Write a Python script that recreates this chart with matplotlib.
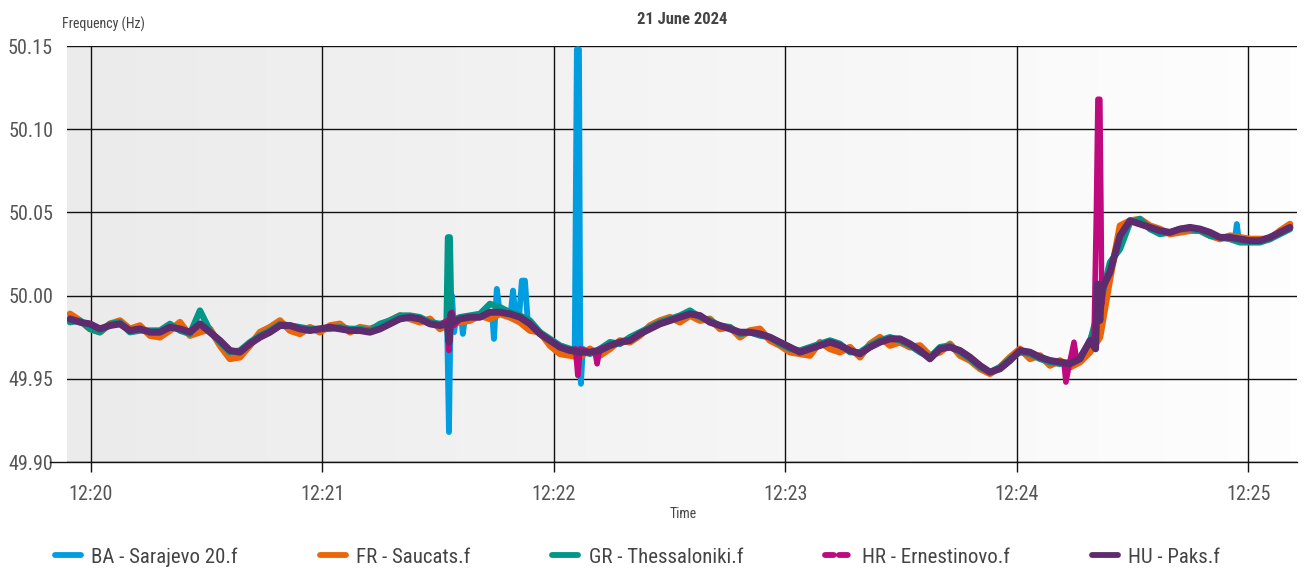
import numpy as np
import matplotlib
matplotlib.use("Agg")
import matplotlib.pyplot as plt
import matplotlib.dates as mdates
from matplotlib.colors import LinearSegmentedColormap
from matplotlib import font_manager
from matplotlib.lines import Line2D
import datetime as dt

avail = {f.name for f in font_manager.fontManager.ttflist}
fam = [f for f in ['Liberation Sans Narrow', 'Roboto Condensed', 'Roboto', 'DejaVu Sans'] if f in avail]
plt.rcParams['font.family'] = fam

# ---------------- data ----------------
title = "21 June 2024"
y_label = "Frequency (Hz)"
x_label = "Time"
series_names = ["BA - Sarajevo 20.f", "FR - Saucats.f", "GR - Thessaloniki.f",
                "HR - Ernestinovo.f", "HU - Paks.f"]
series_colors = ["#009ee0", "#ec6608", "#009688", "#be0a7e", "#5e2c6e"]

# sample grid (seconds after 12:20:00)
t_start = -5.44
t_step = 2.592

hu = [49.986, 49.984, 49.983, 49.980, 49.982, 49.983, 49.979, 49.980, 49.978, 49.978,
      49.981, 49.980, 49.978, 49.983, 49.978, 49.973, 49.967, 49.966, 49.971, 49.975,
      49.978, 49.982, 49.982, 49.980, 49.979, 49.980, 49.981, 49.980, 49.979, 49.979,
      49.978, 49.980, 49.983, 49.986, 49.987, 49.986, 49.983, 49.982, 49.985, 49.986,
      49.987, 49.987, 49.990, 49.990, 49.989, 49.987, 49.983, 49.977, 49.973, 49.969,
      49.967, 49.966, 49.966, 49.967, 49.970, 49.972, 49.973, 49.977, 49.980, 49.983,
      49.985, 49.987, 49.989, 49.988, 49.984, 49.982, 49.980, 49.978, 49.978, 49.977,
      49.975, 49.972, 49.969, 49.966, 49.968, 49.970, 49.972, 49.970, 49.967, 49.965,
      49.969, 49.972, 49.974, 49.974, 49.971, 49.967, 49.962, 49.968, 49.969, 49.967,
      49.963, 49.958, 49.954, 49.956, 49.961, 49.967, 49.966, 49.963, 49.961, 49.960,
      49.959, 49.962, 49.973, 49.991, 50.014, 50.036, 50.045, 50.043, 50.041, 50.039,
      50.038, 50.040, 50.041, 50.040, 50.038, 50.035, 50.035, 50.034, 50.033, 50.033,
      50.035, 50.038, 50.041]

fr = [49.989, 49.985, 49.980, 49.978, 49.983, 49.985, 49.980, 49.982, 49.976, 49.975,
      49.979, 49.984, 49.976, 49.978, 49.980, 49.970, 49.962, 49.963, 49.970, 49.978,
      49.981, 49.985, 49.979, 49.977, 49.981, 49.978, 49.982, 49.983, 49.978, 49.981,
      49.980, 49.982, 49.985, 49.988, 49.986, 49.984, 49.986, 49.980, 49.983, 49.984,
      49.985, 49.988, 49.986, 49.989, 49.987, 49.984, 49.979, 49.978, 49.970, 49.965,
      49.964, 49.963, 49.968, 49.964, 49.968, 49.973, 49.972, 49.976, 49.982, 49.985,
      49.987, 49.984, 49.988, 49.985, 49.986, 49.980, 49.981, 49.975, 49.979, 49.980,
      49.973, 49.970, 49.966, 49.965, 49.964, 49.972, 49.968, 49.966, 49.969, 49.963,
      49.971, 49.975, 49.970, 49.972, 49.969, 49.970, 49.964, 49.966, 49.971, 49.964,
      49.961, 49.956, 49.953, 49.957, 49.963, 49.968, 49.962, 49.964, 49.958, 49.961,
      49.957, 49.960, 49.966, 49.975, 50.010, 50.042, 50.045, 50.046, 50.042, 50.040,
      50.037, 50.038, 50.039, 50.039, 50.036, 50.034, 50.036, 50.035, 50.034, 50.034,
      50.034, 50.039, 50.043]

gr = [49.984, 49.985, 49.980, 49.978, 49.983, 49.984, 49.978, 49.979, 49.979, 49.979,
      49.983, 49.979, 49.977, 49.991, 49.979, 49.972, 49.966, 49.967, 49.972, 49.976,
      49.979, 49.983, 49.982, 49.981, 49.980, 49.980, 49.980, 49.981, 49.980, 49.980,
      49.979, 49.983, 49.985, 49.988, 49.988, 49.987, 49.984, 49.983, 49.986, 49.987,
      49.988, 49.989, 49.995, 49.993, 49.990, 49.988, 49.985, 49.978, 49.974, 49.970,
      49.968, 49.967, 49.965, 49.968, 49.972, 49.971, 49.975, 49.978, 49.981, 49.984,
      49.986, 49.988, 49.991, 49.987, 49.985, 49.982, 49.981, 49.977, 49.978, 49.976,
      49.975, 49.971, 49.968, 49.967, 49.969, 49.971, 49.973, 49.971, 49.966, 49.966,
      49.970, 49.973, 49.975, 49.973, 49.970, 49.966, 49.963, 49.969, 49.970, 49.966,
      49.962, 49.957, 49.954, 49.957, 49.962, 49.966, 49.965, 49.962, 49.960, 49.959,
      49.960, 49.963, 49.972, 49.995, 50.020, 50.028, 50.044, 50.046, 50.040, 50.037,
      50.038, 50.040, 50.040, 50.039, 50.036, 50.035, 50.034, 50.032, 50.032, 50.032,
      50.034, 50.037, 50.040]

ba = [49.986, 49.984, 49.983, 49.980, 49.982, 49.983, 49.979, 49.980, 49.978, 49.978,
      49.981, 49.980, 49.978, 49.983, 49.978, 49.973, 49.967, 49.966, 49.971, 49.975,
      49.978, 49.982, 49.982, 49.980, 49.979, 49.980, 49.981, 49.980, 49.979, 49.979,
      49.978, 49.980, 49.983, 49.986, 49.987, 49.986, 49.983, 49.982, 49.985, 49.986,
      49.987, 49.987, 49.990, 49.990, 49.989, 49.987, 49.983, 49.977, 49.973, 49.969,
      49.967, 49.966, 49.966, 49.967, 49.970, 49.972, 49.973, 49.977, 49.980, 49.983,
      49.985, 49.987, 49.989, 49.988, 49.984, 49.982, 49.980, 49.978, 49.978, 49.977,
      49.975, 49.972, 49.969, 49.966, 49.968, 49.970, 49.972, 49.970, 49.967, 49.965,
      49.969, 49.972, 49.974, 49.974, 49.971, 49.967, 49.962, 49.968, 49.969, 49.967,
      49.963, 49.958, 49.954, 49.956, 49.961, 49.967, 49.966, 49.963, 49.961, 49.960,
      49.959, 49.962, 49.973, 49.991, 50.014, 50.036, 50.045, 50.043, 50.041, 50.039,
      50.038, 50.040, 50.041, 50.040, 50.038, 50.035, 50.035, 50.034, 50.033, 50.033,
      50.035, 50.038, 50.041]

hr = [49.986, 49.984, 49.983, 49.980, 49.982, 49.983, 49.979, 49.980, 49.978, 49.978,
      49.981, 49.980, 49.978, 49.983, 49.978, 49.973, 49.967, 49.966, 49.971, 49.975,
      49.978, 49.982, 49.982, 49.980, 49.979, 49.980, 49.981, 49.980, 49.979, 49.979,
      49.978, 49.980, 49.983, 49.986, 49.987, 49.986, 49.983, 49.982, 49.985, 49.986,
      49.987, 49.987, 49.990, 49.990, 49.989, 49.987, 49.983, 49.977, 49.973, 49.969,
      49.967, 49.966, 49.966, 49.967, 49.970, 49.972, 49.973, 49.977, 49.980, 49.983,
      49.985, 49.987, 49.989, 49.988, 49.984, 49.982, 49.980, 49.978, 49.978, 49.977,
      49.975, 49.972, 49.969, 49.966, 49.968, 49.970, 49.972, 49.970, 49.967, 49.965,
      49.969, 49.972, 49.974, 49.974, 49.971, 49.967, 49.962, 49.968, 49.969, 49.967,
      49.963, 49.958, 49.954, 49.956, 49.961, 49.967, 49.966, 49.963, 49.961, 49.960,
      49.959, 49.962, 49.973, 49.991, 50.014, 50.036, 50.045, 50.043, 50.041, 50.039,
      50.038, 50.040, 50.041, 50.040, 50.038, 50.035, 50.035, 50.034, 50.033, 50.033,
      50.035, 50.038, 50.041]

# short transient events (seconds after 12:20:00, Hz)
ba_events = [
    ([92.3, 92.8, 93.1, 93.6, 94.1, 94.6], [49.985, 49.918, 49.970, 50.000, 49.978, 49.985]),
    ([96.0, 96.4, 96.9], [49.986, 49.977, 49.986]),
    ([104.0, 104.45, 105.2, 106.0], [49.989, 49.974, 50.004, 49.989]),
    ([108.8, 109.4, 110.0], [49.989, 50.003, 49.989]),
    ([111.0, 111.7, 112.5, 113.2], [49.988, 50.009, 50.009, 49.985]),
    ([125.4, 125.95, 126.5, 126.8, 127.0, 127.5], [49.968, 50.148, 50.148, 49.980, 49.947, 49.968]),
    ([296.5, 297.0, 297.5], [50.034, 50.043, 50.034]),
]
gr_events = [
    ([92.2, 92.55, 93.0, 93.4], [49.984, 50.035, 50.035, 49.985]),
]
hr_events = [
    ([92.3, 92.8, 93.6, 94.1], [49.985, 49.967, 49.990, 49.982]),
    ([125.6, 126.2, 126.8], [49.968, 49.952, 49.968]),
    ([130.6, 131.2, 131.9], [49.967, 49.959, 49.968]),
    ([252.2, 252.7, 253.7, 254.8, 255.5], [49.960, 49.948, 49.960, 49.972, 49.961]),
    ([260.0, 260.6, 261.0, 261.5, 261.8, 262.0, 262.5], [49.975, 50.050, 50.118, 50.118, 50.050, 49.995, 50.005]),
]
hu_events = [
    ([92.4, 92.8, 93.3, 93.8], [49.983, 49.972, 49.989, 49.984]),
    ([260.4, 260.9, 261.5, 262.0], [49.968, 50.007, 49.985, 50.004]),
]

y_ticks = [49.90, 49.95, 50.00, 50.05, 50.10, 50.15]
x_tick_labels = ["12:20", "12:21", "12:22", "12:23", "12:24", "12:25"]

# ---------------- helpers ----------------
base = dt.datetime(2024, 6, 21, 12, 20, 0)
base_num = mdates.date2num(base)


def to_num(sec):
    return base_num + np.asarray(sec, dtype=float) / 86400.0


def build(values, events):
    vals = np.asarray(values, dtype=float)
    t = t_start + t_step * np.arange(len(vals))
    keep = np.ones(len(t), bool)
    for et, ev in events:
        keep &= ~((t >= min(et) - 0.4) & (t <= max(et) + 0.4))
    ts = list(t[keep])
    vs = list(vals[keep])
    for et, ev in events:
        ts += list(et)
        vs += list(ev)
    order = np.argsort(ts)
    return to_num(np.array(ts)[order]), np.array(vs)[order]


# ---------------- figure ----------------
W, H = 1306, 570
fig = plt.figure(figsize=(W / 100, H / 100), dpi=100)
ax = fig.add_axes([67 / W, 1 - 462 / H, (1297 - 67) / W, (462 - 46) / H])

x0, x1 = to_num(-6.2), to_num(312.6)
y0, y1 = 49.90, 50.15
ax.set_xlim(x0, x1)
ax.set_ylim(y0, y1)

cmap = LinearSegmentedColormap.from_list("bg", ["#ebebeb", "#fefefe"])
ax.imshow(np.linspace(0, 1, 256).reshape(1, -1), cmap=cmap, aspect="auto",
          extent=[x0, x1, y0, y1], zorder=0, interpolation="bilinear")
ax.set_facecolor("none")

# grid
xt = to_num(np.arange(0, 301, 60))
for xv in xt:
    ax.axvline(xv, color="#111111", lw=1.0, zorder=1)
for yv in y_ticks:
    ax.axhline(yv, color="#111111", lw=1.0, zorder=1)

data = [(ba, ba_events), (fr, []), (gr, gr_events), (hr, hr_events), (hu, hu_events)]
widths = [4.2, 4.8, 4.6, 4.0, 5.0]
for i, (vals, ev) in enumerate(data):
    x, y = build(vals, ev)
    ax.plot(x, y, color=series_colors[i], lw=widths[i], ls="-",
            solid_joinstyle="round", solid_capstyle="round", zorder=3 + i)

for s in ax.spines.values():
    s.set_visible(False)

ax.set_yticks(y_ticks)
ax.set_yticklabels([f"{v:.2f}" for v in y_ticks])
ax.set_xticks(xt)
ax.set_xticklabels(x_tick_labels)
ax.tick_params(axis="y", length=0, pad=10, labelsize=14.5, labelcolor="#555555")
ax.tick_params(axis="x", length=7.5, width=1.0, color="#111111", pad=9,
               labelsize=14.5, labelcolor="#555555")

# bottom axis line extending slightly to the left
ax.add_line(Line2D([-17 / (1297 - 67), 1], [0, 0], transform=ax.transAxes,
                   color="#111111", lw=1.0, clip_on=False, zorder=2))

fig.text(62 / W, 1 - 24 / H, y_label, fontsize=10, color="#444444", ha="left", va="center")
fig.text(682 / W, 1 - 19 / H, title, fontsize=12, color="#444444", ha="center",
         va="center", fontweight="bold")
fig.text(683 / W, 1 - 514 / H, x_label, fontsize=10, color="#444444", ha="center", va="center")

handles = []
for i, name in enumerate(series_names):
    ls = (0, (1.5, 0.9)) if i == 3 else "-"
    handles.append(Line2D([], [], color=series_colors[i], lw=4.2, ls=ls,
                          solid_capstyle="round", dash_capstyle="round"))
leg = fig.legend(handles, series_names, loc="center", bbox_to_anchor=(0.488, 1 - 557 / H),
                 ncol=5, frameon=False, fontsize=15, handlelength=1.25,
                 handletextpad=0.5, columnspacing=3.94, labelcolor="#444444")

fig.savefig("out.png", dpi=100)
